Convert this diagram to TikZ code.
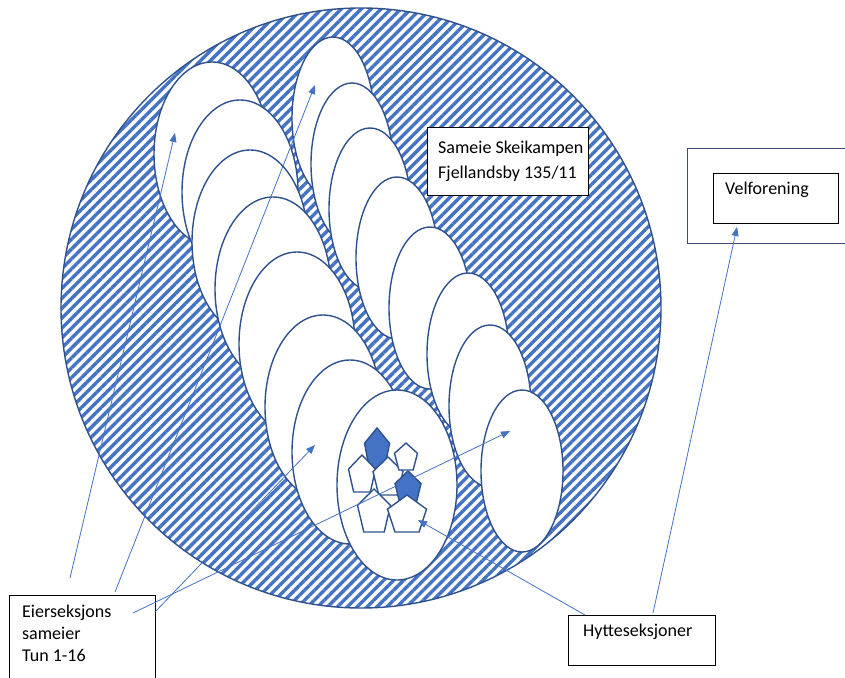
\documentclass[tikz,border=0pt]{standalone}
\usepackage{fontspec}
\setmainfont{Carlito}
\usetikzlibrary{patterns.meta,arrows.meta}
\definecolor{hatch}{RGB}{68,114,196}
\definecolor{edge}{RGB}{47,82,143}
\definecolor{arr}{RGB}{68,114,196}
\definecolor{frame}{RGB}{60,80,110}
\newcommand{\pentag}[5]{%
  \path[#5] ({#1},{#2}) -- ({#1+#3/2},{#2+0.382*#4}) -- ({#1+0.309*#3},{#2+#4})
    -- ({#1-0.309*#3},{#2+#4}) -- ({#1-#3/2},{#2+0.382*#4}) -- cycle;}
\begin{document}
\begin{tikzpicture}[x=1pt,y=-1pt,
  ell/.style={draw=edge, line width=1.4pt, fill=white},
  pent/.style={draw=edge, line width=1.4pt, fill=white, line join=miter},
  pentf/.style={pent, fill=hatch},
  arrowline/.style={draw=arr, line width=0.8pt, -{Triangle[length=9pt,width=7pt]}},
  box/.style={draw=black, line width=0.8pt, fill=white, inner sep=0pt},
  txt/.style={font=\fontsize{18}{22}\selectfont, inner sep=0pt, align=left, anchor=north west}]
\useasboundingbox (0,0) rectangle (845,677);
% big hatched circle
\fill[white] (361,308) circle[radius=300];
\draw[draw=edge, line width=1.4pt, pattern={Lines[angle=45,distance=7pt,line width=3.4pt]}, pattern color=hatch] (361,308) circle[radius=300];
% right column of ellipses
\foreach \cx/\cy in {333/118, 352/164, 370/209, 397/258, 430/308, 468/354, 490/406, 522/471}
  \draw[ell] (\cx,\cy) ellipse[x radius=41, y radius=81];
% left column of ellipses
\foreach \cx/\cy in {212/154, 240/192, 250/242, 273/289, 297/344, 323/407, 350/452}
  \draw[ell] (\cx,\cy) ellipse[x radius=58, y radius=92];
\draw[ell] (397,485) ellipse[x radius=60, y radius=95];
% pentagons (hytteseksjoner)
\pentag{377}{428}{25}{40}{pentf}
\pentag{362}{455}{27}{37}{pent}
\pentag{388}{457}{30}{38}{pent}
\pentag{406}{443}{23}{27}{pent}
\pentag{408}{471}{26}{33}{pentf}
\pentag{374}{489}{33}{43}{pent}
\pentag{407}{495}{39}{37}{pent}
% Sameie box
\node[box, minimum width=161pt, minimum height=68pt, anchor=north west] (sameie) at (427,127) {};
\node[txt] (sameietxt) at (438,141) {Sameie Skeikampen\\[3pt]Fjellandsby 135/11};
% Velforening
\node[draw=frame, line width=1.3pt, minimum width=170pt, minimum height=95pt, anchor=north west, inner sep=0pt] (velout) at (687,148) {};
\node[box, minimum width=125pt, minimum height=50pt, anchor=north west] (velin) at (713,173) {};
\node[txt] (veltxt) at (725,182) {Velforening};
% Eierseksjons box
\node[box, minimum width=146pt, minimum height=100pt, anchor=north west] (eier) at (9,595) {};
\node[txt] (eiertxt) at (22,605) {Eierseksjons\\sameier\\Tun 1-16};
% Hytteseksjoner box
\node[box, minimum width=147pt, minimum height=50pt, anchor=north west] (hyt) at (568,615) {};
\node[txt] (hyttxt) at (583,624) {Hytteseksjoner};
% arrow targets and starts
\coordinate (tL1) at (175,133);
\coordinate (tR1) at (315,85);
\coordinate (tL7) at (315,445);
\coordinate (tR8) at (510,431);
\coordinate (tG) at (418,520);
\coordinate (tVel) at (737,227);
\coordinate (s1) at (70,578);
\coordinate (s2) at (115,592);
\coordinate (s3) at (155,612);
\coordinate (s4) at (133,613);
\coordinate (s5) at (585,615);
\coordinate (s6) at (653,613);
\draw[arrowline] (s1) -- (tL1);
\draw[arrowline] (s2) -- (tR1);
\draw[arrowline] (s3) -- (tL7);
\draw[arrowline] (s4) -- (tR8);
\draw[arrowline] (s5) -- (tG);
\draw[arrowline] (s6) -- (tVel);
\end{tikzpicture}
\end{document}
